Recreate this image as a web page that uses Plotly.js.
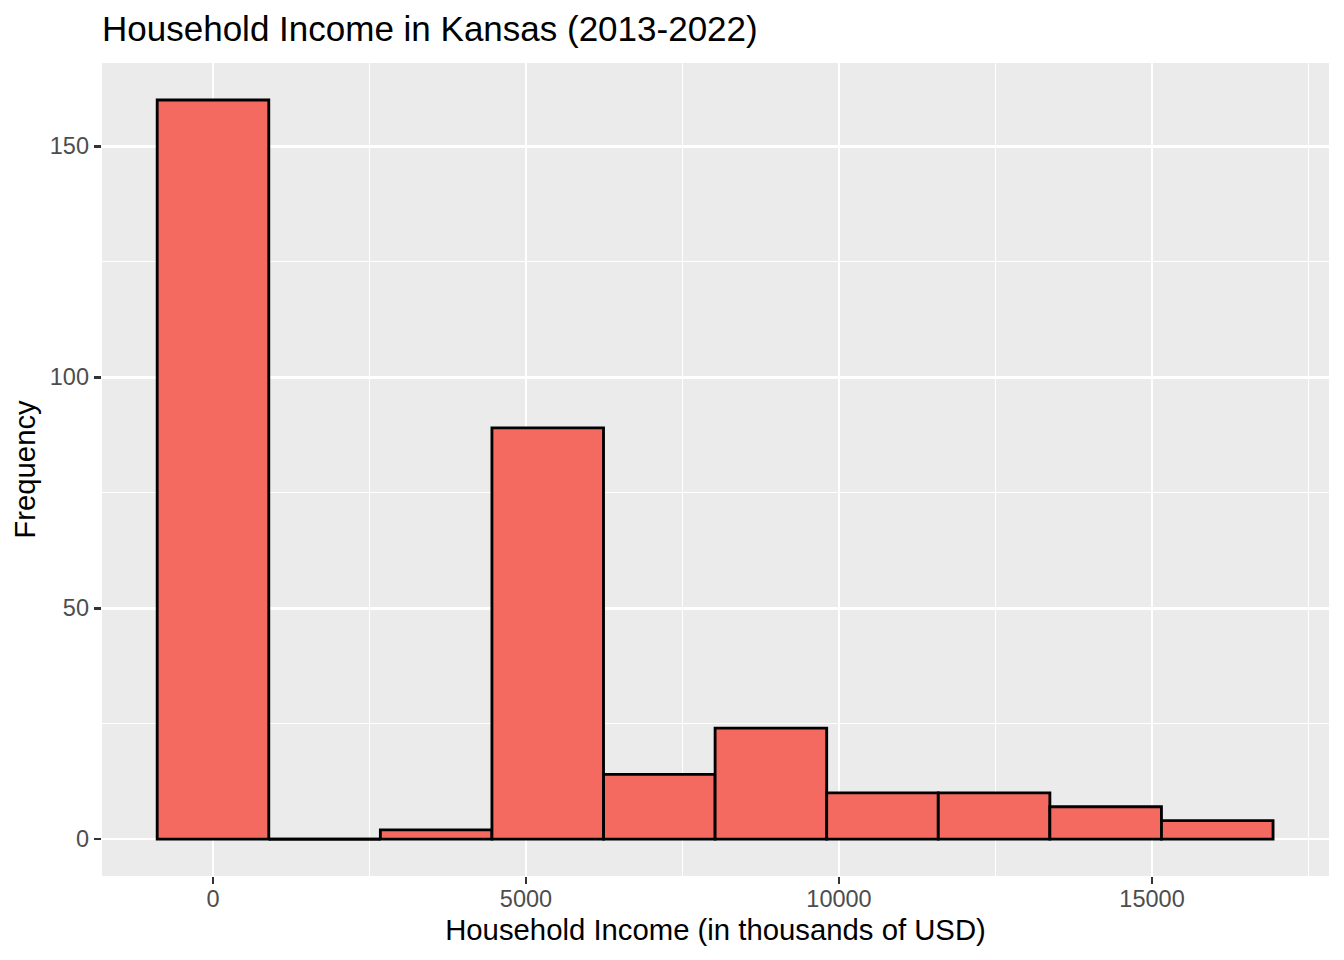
<!DOCTYPE html>
<html>
<head>
<meta charset="utf-8">
<script src="https://cdn.plot.ly/plotly-3.0.1.min.js"></script>
<style>html,body{margin:0;padding:0;background:#fff;}#chart{width:1344px;height:960px;}</style>
</head>
<body>
<div id="chart"></div>
<script>
// Histogram bins (thousands of USD) and counts
const binCenters = [0, 1782, 3565, 5347, 7130, 8912, 10694, 12477, 14259, 16042];
const binWidth = 1782.4;
const counts = [160, 0, 2, 89, 14, 24, 10, 10, 7, 4];
const xTickVals = [0, 5000, 10000, 15000];
const yTickVals = [0, 50, 100, 150];

const FONT = '"Liberation Sans", Arial, Helvetica, sans-serif';
const LW = 2.85;

const bars = {
  type: 'bar',
  x: binCenters,
  y: counts,
  width: binCenters.map(() => binWidth),
  marker: {color: '#F46A60', line: {color: '#000000', width: LW}},
  hoverinfo: 'x+y',
  showlegend: false
};

// zero-count bins drawn as a flat outline at y = 0 (as ggplot does)
const zx = [], zy = [];
binCenters.forEach((c, i) => {
  if (counts[i] === 0) {
    zx.push(c - binWidth / 2, c + binWidth / 2, null);
    zy.push(0, 0, null);
  }
});
const zeroBins = {
  type: 'scatter', mode: 'lines', x: zx, y: zy,
  line: {color: '#000000', width: LW}, hoverinfo: 'skip', showlegend: false
};

const layout = {
  width: 1344, height: 960,
  margin: {l: 102, r: 15, t: 63, b: 84},
  paper_bgcolor: '#FFFFFF',
  plot_bgcolor: '#EBEBEB',
  bargap: 0,
  font: {family: FONT, color: '#000000'},
  title: {
    text: 'Household Income in Kansas (2013-2022)',
    font: {family: FONT, size: 35, color: '#000000'},
    x: 102 / 1344, xref: 'container', xanchor: 'left',
    y: 1 - 29 / 960, yref: 'container', yanchor: 'middle'
  },
  xaxis: {
    range: [-1773, 17827],
    tickvals: xTickVals,
    ticktext: xTickVals.map(String),
    ticks: 'outside', ticklen: 7.3, tickwidth: LW, tickcolor: '#333333',
    ticklabelstandoff: -6,
    tickfont: {family: FONT, size: 23.5, color: '#4D4D4D'},
    showgrid: true, gridcolor: '#FFFFFF', gridwidth: LW,
    minor: {dtick: 2500, tick0: 2500, showgrid: true, gridcolor: '#FFFFFF', gridwidth: 1.5, ticks: ''},
    zeroline: false, showline: false,
    title: {text: 'Household Income (in thousands of USD)', font: {family: FONT, size: 29.3, color: '#000000'}, standoff: 8},
    automargin: false
  },
  yaxis: {
    range: [-8, 168],
    tickvals: yTickVals,
    ticktext: yTickVals.map(String),
    ticks: 'outside', ticklen: 7.3, tickwidth: LW, tickcolor: '#333333',
    tickfont: {family: FONT, size: 23.5, color: '#4D4D4D'},
    showgrid: true, gridcolor: '#FFFFFF', gridwidth: LW,
    minor: {dtick: 25, tick0: 25, showgrid: true, gridcolor: '#FFFFFF', gridwidth: 1.5, ticks: ''},
    zeroline: false, showline: false,
    title: {text: 'Frequency', font: {family: FONT, size: 29.3, color: '#000000'}, standoff: 5},
    automargin: false
  }
};

Plotly.newPlot('chart', [bars, zeroBins], layout, {displayModeBar: false, staticPlot: true});
</script>
</body>
</html>
